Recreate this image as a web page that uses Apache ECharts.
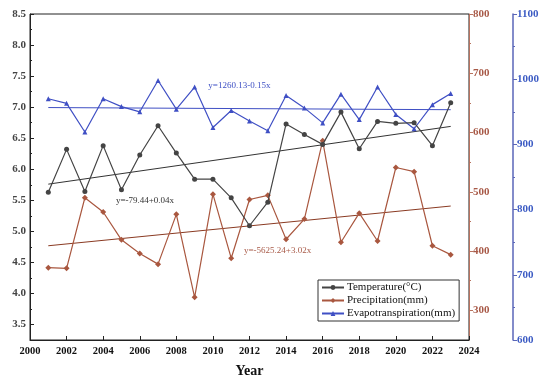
<!DOCTYPE html>
<html><head><meta charset="utf-8">
<script src="https://cdn.jsdelivr.net/npm/echarts@6/dist/echarts.min.js"></script>
<style>html,body{margin:0;padding:0;background:#fff}#c{width:550px;height:383px}</style>
</head><body><div id="c"></div>
<script>
const years = [2001,2002,2003,2004,2005,2006,2007,2008,2009,2010,2011,2012,2013,2014,2015,2016,2017,2018,2019,2020,2021,2022,2023];
const temperature = [5.63,6.32,5.64,6.38,5.67,6.23,6.70,6.26,5.84,5.84,5.54,5.09,5.47,6.73,6.56,6.40,6.92,6.33,6.77,6.74,6.75,6.38,7.07];
const precipitation = [372,371,490,466,419,396,378,462,322,496,388,487,494,420,454,586,415,464,417,541,534,409,394];
const evapotranspiration = [970,963,919,970,958,950,998,954,988,926,952,936,921,975,956,933,977,938,988,946,924,961,978];
const trendYears = [2001, 2023];
const tempTrend = [5.76, 6.69];
const precipTrend = [409, 476];
const evapTrend = [956.5, 953.2];
const xTicks = [2000,2002,2004,2006,2008,2010,2012,2014,2016,2018,2020,2022,2024];
const tempTicks = [3.5,4.0,4.5,5.0,5.5,6.0,6.5,7.0,7.5,8.0,8.5];
const tempMinor = [3.75,4.25,4.75,5.25,5.75,6.25,6.75,7.25,7.75,8.25];
const precipTicks = [300,400,500,600,700,800];
const precipMinor = [350,450,550,650,750];
const evapTicks = [600,700,800,900,1000,1100];
const evapMinor = [650,750,850,950,1050];
const seriesNames = ['Temperature(\u00B0C)','Precipitation(mm)','Evapotranspiration(mm)'];
const eqTexts = ['y=-79.44+0.04x','y=-5625.24+3.02x','y=1260.13-0.15x'];
const eqAnchors = [[2004.7, 5.48], [2011.7, 400.7], [2009.75, 989]];

const FONT = '"Liberation Serif","Times New Roman",serif';
const cT = '#444444', cP = '#a9573f', cE = '#3f4fc4';
const pairs = (xs, ys) => xs.map((x, i) => [x, ys[i]]);
const plain = v => String(v);

const chart = echarts.init(document.getElementById('c'), null, {renderer: 'canvas'});
const option = {
  animation: false,
  backgroundColor: '#fff',
  grid: {left: 30, right: 81, top: 14, bottom: 41, show: true, borderColor: '#222', borderWidth: 1, backgroundColor: 'transparent'},
  legend: {
    data: seriesNames, orient: 'vertical', left: 318, top: 280,
    itemWidth: 22, itemHeight: 6, itemGap: 2, padding: [2, 4, 2, 3],
    borderColor: '#333', borderWidth: 1,
    textStyle: {fontFamily: FONT, fontSize: 11, color: '#111', padding: [0,0,0,-2]}
  },
  xAxis: {
    type: 'value', min: 2000, max: 2024, interval: 2,
    name: 'Year', nameLocation: 'middle', nameGap: 24,
    nameTextStyle: {fontFamily: FONT, fontSize: 14, fontWeight: 'bold', color: '#111'},
    axisLine: {lineStyle: {color: '#222', width: 1}},
    axisTick: {inside: true, length: 4, lineStyle: {color: '#222'}},
    axisLabel: {fontFamily: FONT, fontSize: 10.5, fontWeight: 'bold', color: '#111', margin: 6,
      customValues: xTicks, formatter: plain},
    splitLine: {show: false}
  },
  yAxis: [
    {
      type: 'value', position: 'left', min: 3.25, max: 8.5,
      axisLine: {show: true, lineStyle: {color: '#222', width: 1}},
      axisTick: {inside: true, length: 4, customValues: tempTicks, lineStyle: {color: '#222'}},
      axisLabel: {customValues: tempTicks, formatter: v => v.toFixed(1), fontFamily: FONT, fontSize: 11, fontWeight: 'bold', color: '#444', margin: 4},
      splitLine: {show: false}
    },
    {
      type: 'value', position: 'right', min: 250, max: 800,
      axisLine: {show: true, lineStyle: {color: '#b8725e', width: 1}},
      axisTick: {inside: false, length: 4, customValues: precipTicks, lineStyle: {color: '#b8725e'}},
      axisLabel: {customValues: precipTicks, formatter: plain, fontFamily: FONT, fontSize: 11, fontWeight: 'bold', color: '#a85a48', margin: 4},
      splitLine: {show: false}
    },
    {
      type: 'value', position: 'right', offset: 44, min: 600, max: 1100,
      axisLine: {show: true, lineStyle: {color: '#5a66b8', width: 1.5}},
      axisTick: {inside: false, length: 4, customValues: evapTicks, lineStyle: {color: '#5a66b8'}},
      axisLabel: {customValues: evapTicks, formatter: plain, fontFamily: FONT, fontSize: 11, fontWeight: 'bold', color: '#3d5cc4', margin: 4},
      splitLine: {show: false}
    },
    {
      type: 'value', position: 'left', min: 3.25, max: 8.5,
      axisLine: {show: false},
      axisTick: {show: true, inside: true, length: 2, customValues: tempMinor, lineStyle: {color: '#222'}},
      axisLabel: {show: false}, splitLine: {show: false}
    },
    {
      type: 'value', position: 'right', min: 250, max: 800,
      axisLine: {show: false},
      axisTick: {show: true, inside: false, length: 2, customValues: precipMinor, lineStyle: {color: '#b8725e'}},
      axisLabel: {show: false}, splitLine: {show: false}
    },
    {
      type: 'value', position: 'right', offset: 44, min: 600, max: 1100,
      axisLine: {show: false},
      axisTick: {show: true, inside: false, length: 2, customValues: evapMinor, lineStyle: {color: '#5a66b8'}},
      axisLabel: {show: false}, splitLine: {show: false}
    }
  ],
  series: [
    {name: seriesNames[0], type: 'line', yAxisIndex: 0, data: pairs(years, temperature),
      symbol: 'circle', symbolSize: 5, lineStyle: {color: cT, width: 1.2}, itemStyle: {color: cT}, z: 4},
    {name: seriesNames[1], type: 'line', yAxisIndex: 1, data: pairs(years, precipitation),
      symbol: 'diamond', symbolSize: 6, lineStyle: {color: cP, width: 1.2}, itemStyle: {color: cP}, z: 3},
    {name: seriesNames[2], type: 'line', yAxisIndex: 2, data: pairs(years, evapotranspiration),
      symbol: 'triangle', symbolSize: 5, lineStyle: {color: cE, width: 1.2}, itemStyle: {color: cE}, z: 3},
    {name: 'tT', type: 'line', yAxisIndex: 0, data: pairs(trendYears, tempTrend), symbol: 'none',
      lineStyle: {color: '#333', width: 1}, z: 2},
    {name: 'pT', type: 'line', yAxisIndex: 1, data: pairs(trendYears, precipTrend), symbol: 'none',
      lineStyle: {color: '#8a3a22', width: 1}, z: 2},
    {name: 'eT', type: 'line', yAxisIndex: 2, data: pairs(trendYears, evapTrend), symbol: 'none',
      lineStyle: {color: '#3f4fc4', width: 1}, z: 2}
  ]
};
chart.setOption(option);

const eqColors = ['#333', '#a85a48', '#3d4fc4'];
const eqAxes = [0, 1, 2];
const graphics = eqTexts.map((t, i) => {
  const p = chart.convertToPixel({xAxisIndex: 0, yAxisIndex: eqAxes[i]}, eqAnchors[i]);
  return {type: 'text', left: p[0], top: p[1] - 5, z: 10,
    style: {text: t, fill: eqColors[i], font: '9px ' + FONT}};
});
chart.setOption({graphic: graphics});
</script></body></html>
